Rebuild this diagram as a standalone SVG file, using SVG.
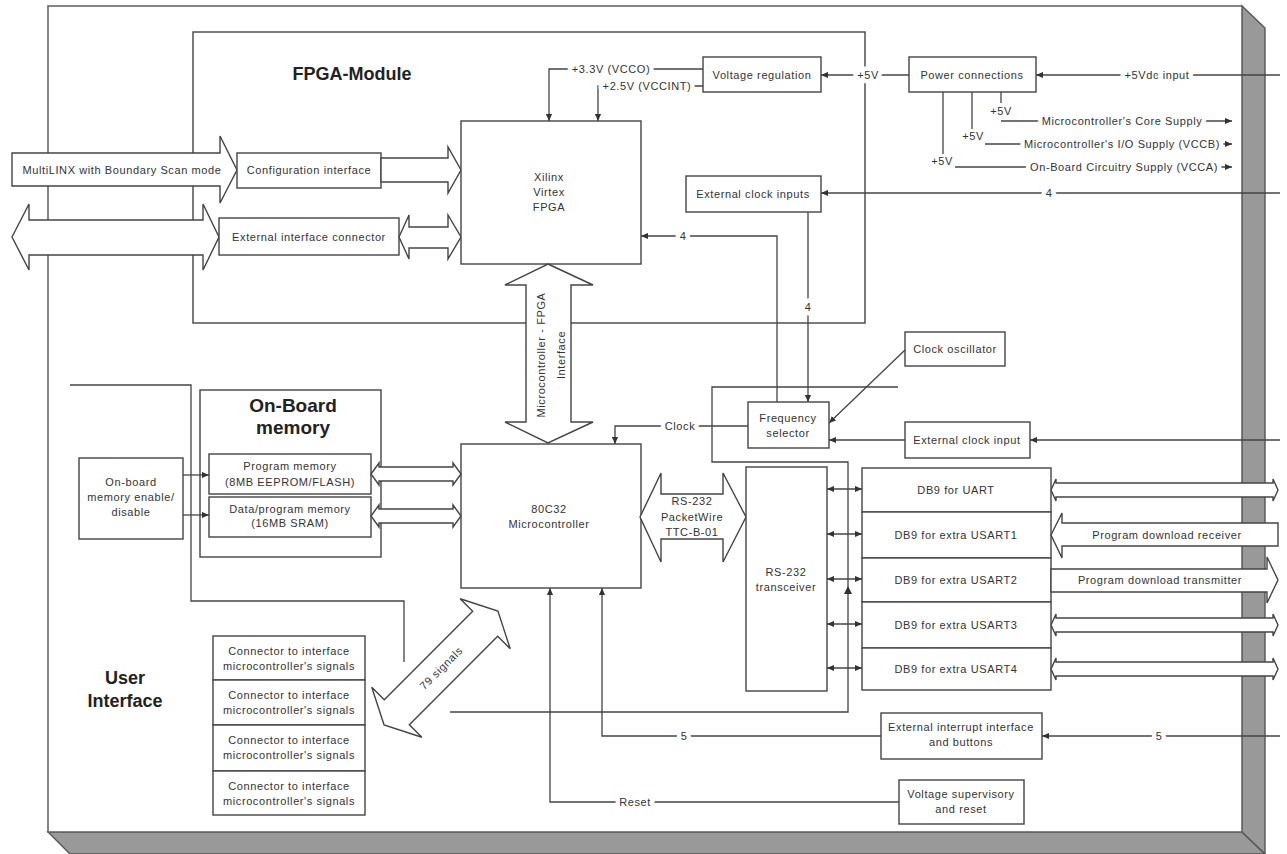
<svg xmlns="http://www.w3.org/2000/svg" width="1287" height="854" viewBox="0 0 1287 854">
<defs>
<style>
.b{fill:#fff;stroke:#444;stroke-width:1.4}
.c{fill:none;stroke:#444;stroke-width:1.4}
.l{fill:none;stroke:#444;stroke-width:1.3}
.t{font-family:"Liberation Sans",Arial,sans-serif;font-size:11px;fill:#333;text-anchor:middle;dominant-baseline:central;letter-spacing:0.6px}
.h{font-family:"Liberation Sans",Arial,sans-serif;font-weight:bold;fill:#222;text-anchor:middle;dominant-baseline:central}
.lb{stroke:#fff;stroke-width:9px;paint-order:stroke;stroke-linejoin:round}
</style>
<marker id="a" viewBox="0 0 8 8" refX="8" refY="4" markerWidth="7" markerHeight="7" markerUnits="userSpaceOnUse" orient="auto-start-reverse"><path d="M0,0.5 L8,4 L0,7.5 z" fill="#333"/></marker>
</defs>

<g id="board">
<polygon points="48,832 1242,832 1265,854 70,854" fill="#999" stroke="#555" stroke-width="1.4"/>
<polygon points="1242,6 1265,28 1265,854 1242,832" fill="#999" stroke="#555" stroke-width="1.4"/>
<rect x="48" y="6" width="1194" height="826" fill="#fff" stroke="#666" stroke-width="1.6"/>
</g>

<g id="fpga-module">
<rect class="c" x="193" y="32" width="672" height="291"/>
<text class="h" x="352" y="74" font-size="18">FPGA-Module</text>
</g>

<g id="regions">
<polyline class="l" points="70,385 191,385 191,601 404,601 404,662"/>
<polyline class="l" points="898,387 712,387 712,462 848,462 848,712 450,712"/>
<polygon points="844,594 852,594 848,586" fill="#333"/>
</g>

<g id="connectors">
<polyline class="l" points="703,69 549,69 549,121" marker-end="url(#a)"/>
<polyline class="l" points="703,86 598,86 598,121" marker-end="url(#a)"/>
<line class="l" x1="909" y1="75" x2="821" y2="75" marker-end="url(#a)"/>
<line class="l" x1="1280" y1="75" x2="1036" y2="75" marker-end="url(#a)"/>
<line class="l" x1="1001" y1="92" x2="1001" y2="103"/>
<line class="l" x1="1001" y1="121" x2="1232" y2="121" marker-end="url(#a)"/>
<line class="l" x1="972" y1="92" x2="972" y2="129"/>
<line class="l" x1="985" y1="144" x2="1232" y2="144" marker-end="url(#a)"/>
<line class="l" x1="943" y1="92" x2="943" y2="154"/>
<line class="l" x1="955" y1="167" x2="1232" y2="167" marker-end="url(#a)"/>
<line class="l" x1="1280" y1="193" x2="821" y2="193" marker-end="url(#a)"/>
<line class="l" x1="808" y1="212" x2="808" y2="402" marker-end="url(#a)"/>
<polyline class="l" points="777,402 777,236 641,236" marker-end="url(#a)"/>
<line class="l" x1="905" y1="350" x2="829" y2="423" marker-end="url(#a)"/>
<line class="l" x1="905" y1="440" x2="829" y2="440" marker-end="url(#a)"/>
<line class="l" x1="1280" y1="440" x2="1030" y2="440" marker-end="url(#a)"/>
<polyline class="l" points="748,426 615,426 615,444" marker-end="url(#a)"/>
<line class="l" x1="827" y1="489" x2="862" y2="489" marker-start="url(#a)" marker-end="url(#a)"/>
<line class="l" x1="827" y1="534" x2="862" y2="534" marker-start="url(#a)" marker-end="url(#a)"/>
<line class="l" x1="827" y1="579" x2="862" y2="579" marker-start="url(#a)" marker-end="url(#a)"/>
<line class="l" x1="827" y1="624" x2="862" y2="624" marker-start="url(#a)" marker-end="url(#a)"/>
<line class="l" x1="827" y1="668" x2="862" y2="668" marker-start="url(#a)" marker-end="url(#a)"/>
<line class="l" x1="1280" y1="736" x2="1042" y2="736" marker-end="url(#a)"/>
<polyline class="l" points="881,736 602,736 602,588" marker-end="url(#a)"/>
<polyline class="l" points="899,802 550,802 550,588" marker-end="url(#a)"/>
<line class="l" x1="183" y1="475" x2="209" y2="475" marker-end="url(#a)"/>
<line class="l" x1="183" y1="515" x2="209" y2="515" marker-end="url(#a)"/>
<text class="t lb" x="611" y="69">+3.3V (VCCO)</text>
<text class="t lb" x="647" y="86">+2.5V (VCCINT)</text>
<text class="t lb" x="868" y="75">+5V</text>
<text class="t lb" x="1157" y="75">+5Vdc input</text>
<text class="t" x="1001" y="111">+5V</text>
<text class="t" x="973" y="136">+5V</text>
<text class="t" x="942" y="161">+5V</text>
<text class="t lb" x="1122" y="121">Microcontroller's Core Supply</text>
<text class="t lb" x="1122" y="144">Microcontroller's I/O Supply (VCCB)</text>
<text class="t lb" x="1124" y="167">On-Board Circuitry Supply (VCCA)</text>
<text class="t lb" x="1049" y="193">4</text>
<text class="t lb" x="808" y="307">4</text>
<text class="t lb" x="683" y="236">4</text>
<text class="t lb" x="680" y="426">Clock</text>
<text class="t lb" x="1159" y="736">5</text>
<text class="t lb" x="684" y="736">5</text>
<text class="t lb" x="635" y="802">Reset</text>
</g>

<g id="multilinx">
<polygon class="b" points="12,153 220,153 220,136 237,170 220,203 220,186 12,186"/>
<text class="t" x="122" y="170">MultiLINX with Boundary Scan mode</text>
</g>
<g id="config-interface">
<rect class="b" x="237" y="153" width="144" height="35"/>
<text class="t" x="309" y="170">Configuration interface</text>
<polygon class="b" points="381,158 448,158 448,147 461,170 448,193 448,182 381,182"/>
</g>
<g id="ext-interface">
<polygon class="b" points="12,237 29,204 29,220 203,220 203,204 219,237 203,270 203,255 29,255 29,270"/>
<rect class="b" x="219" y="218" width="180" height="37"/>
<text class="t" x="309" y="237">External interface connector</text>
<polygon class="b" points="399,237 409,215 409,227 448,227 448,215 461,237 448,259 448,248 409,248 409,259"/>
</g>
<g id="fpga">
<rect class="b" x="461" y="121" width="180" height="143"/>
<text class="t" x="549" y="177">Xilinx</text>
<text class="t" x="549" y="192">Virtex</text>
<text class="t" x="549" y="207">FPGA</text>
</g>
<g id="voltage-regulation">
<rect class="b" x="703" y="57" width="118" height="35"/>
<text class="t" x="762" y="75">Voltage regulation</text>
</g>
<g id="power-connections">
<rect class="b" x="909" y="57" width="127" height="35"/>
<text class="t" x="972" y="75">Power connections</text>
</g>
<g id="ext-clock-inputs">
<rect class="b" x="686" y="176" width="135" height="36"/>
<text class="t" x="753" y="194">External clock inputs</text>
</g>
<g id="freq-selector">
<rect class="b" x="748" y="402" width="81" height="46"/>
<text class="t" x="788" y="418">Frequency</text>
<text class="t" x="788" y="433">selector</text>
</g>
<g id="clock-oscillator">
<rect class="b" x="905" y="332" width="100" height="34"/>
<text class="t" x="955" y="349">Clock oscillator</text>
</g>
<g id="ext-clock-input">
<rect class="b" x="905" y="422" width="125" height="36"/>
<text class="t" x="967" y="440">External clock input</text>
</g>
<g id="mc-fpga-interface">
<polygon class="b" points="548,264 593,285 571,285 571,422 593,422 548,443 505,422 526,422 526,285 505,285"/>
<text class="t" transform="translate(541,355) rotate(-90)">Microcontroller - FPGA</text>
<text class="t" transform="translate(561,355) rotate(-90)">Interface</text>
</g>
<g id="microcontroller">
<rect class="b" x="461" y="444" width="180" height="144"/>
<text class="t" x="549" y="509">80C32</text>
<text class="t" x="549" y="524">Microcontroller</text>
</g>
<g id="rs232-link">
<polygon class="b" points="640,517 661,473 661,494 723,494 723,473 746,517 723,562 723,539 661,539 661,562"/>
<text class="t" x="692" y="501">RS-232</text>
<text class="t" x="692" y="517">PacketWire</text>
<text class="t" x="692" y="532">TTC-B-01</text>
</g>
<g id="rs232-transceiver">
<rect class="b" x="746" y="467" width="81" height="224"/>
<text class="t" x="786" y="572">RS-232</text>
<text class="t" x="786" y="587">transceiver</text>
</g>
<g id="db9-uart">
<rect class="b" x="862" y="468" width="189" height="44"/>
<text class="t" x="956" y="490">DB9 for UART</text>
<polygon class="b" points="1051,490 1056,479 1056,483 1273,483 1273,479 1278,490 1273,501 1273,497 1056,497 1056,501"/>
</g>
<g id="db9-usart1">
<rect class="b" x="862" y="512" width="189" height="46"/>
<text class="t" x="956" y="535">DB9 for extra USART1</text>
<polygon class="b" points="1051,535 1062,513 1062,523 1278,523 1278,546 1062,546 1062,558"/>
<text class="t" x="1167" y="535">Program download receiver</text>
</g>
<g id="db9-usart2">
<rect class="b" x="862" y="558" width="189" height="44"/>
<text class="t" x="956" y="580">DB9 for extra USART2</text>
<polygon class="b" points="1051,569 1267,569 1267,557 1278,580 1267,603 1267,592 1051,592"/>
<text class="t" x="1160" y="580">Program download transmitter</text>
</g>
<g id="db9-usart3">
<rect class="b" x="862" y="602" width="189" height="46"/>
<text class="t" x="956" y="625">DB9 for extra USART3</text>
<polygon class="b" points="1051,625 1056,614 1056,618 1273,618 1273,614 1278,625 1273,636 1273,632 1056,632 1056,636"/>
</g>
<g id="db9-usart4">
<rect class="b" x="862" y="648" width="189" height="42"/>
<text class="t" x="956" y="669">DB9 for extra USART4</text>
<polygon class="b" points="1051,669 1056,658 1056,662 1273,662 1273,658 1278,669 1273,680 1273,676 1056,676 1056,680"/>
</g>
<g id="ext-interrupt">
<rect class="b" x="881" y="713" width="161" height="46"/>
<text class="t" x="961" y="727">External interrupt interface</text>
<text class="t" x="961" y="742">and buttons</text>
</g>
<g id="voltage-supervisory">
<rect class="b" x="899" y="780" width="125" height="44"/>
<text class="t" x="961" y="794">Voltage supervisory</text>
<text class="t" x="961" y="809">and reset</text>
</g>
<g id="onboard-memory">
<rect class="c" x="200" y="390" width="181" height="167"/>
<text class="h" x="293" y="405" font-size="19">On-Board</text>
<text class="h" x="293" y="427" font-size="19">memory</text>
</g>
<g id="program-memory">
<rect class="b" x="209" y="454" width="162" height="40"/>
<text class="t" x="290" y="466">Program memory</text>
<text class="t" x="290" y="482">(8MB EEPROM/FLASH)</text>
<polygon class="b" points="371,474 379,463 379,467 453,467 453,463 461,474 453,485 453,481 379,481 379,485"/>
</g>
<g id="data-memory">
<rect class="b" x="209" y="497" width="162" height="40"/>
<text class="t" x="290" y="509">Data/program memory</text>
<text class="t" x="290" y="523">(16MB SRAM)</text>
<polygon class="b" points="371,516 379,505 379,509 453,509 453,505 461,516 453,527 453,523 379,523 379,527"/>
</g>
<g id="memory-enable">
<rect class="b" x="79" y="458" width="104" height="81"/>
<text class="t" x="131" y="482">On-board</text>
<text class="t" x="131" y="497">memory enable/</text>
<text class="t" x="131" y="512">disable</text>
</g>
<g id="user-interface">
<text class="h" x="125" y="678" font-size="18">User</text>
<text class="h" x="125" y="701" font-size="18">Interface</text>
</g>
<g id="connector-1">
<rect class="b" x="213" y="636" width="152" height="44"/>
<text class="t" x="289" y="651">Connector to interface</text>
<text class="t" x="289" y="666">microcontroller's signals</text>
</g>
<g id="connector-2">
<rect class="b" x="213" y="680" width="152" height="45"/>
<text class="t" x="289" y="695">Connector to interface</text>
<text class="t" x="289" y="710">microcontroller's signals</text>
</g>
<g id="connector-3">
<rect class="b" x="213" y="725" width="152" height="46"/>
<text class="t" x="289" y="740">Connector to interface</text>
<text class="t" x="289" y="755">microcontroller's signals</text>
</g>
<g id="connector-4">
<rect class="b" x="213" y="771" width="152" height="44"/>
<text class="t" x="289" y="786">Connector to interface</text>
<text class="t" x="289" y="801">microcontroller's signals</text>
</g>
<g id="signals-79" transform="translate(441,668) rotate(-45)">
<polygon class="b" points="-80.5,0 -62.5,-35.4 -62.5,-17.7 62.5,-17.7 62.5,-35.4 80.5,0 62.5,35.4 62.5,17.7 -62.5,17.7 -62.5,35.4"/>
<text class="t" x="0" y="0">79 signals</text>
</g>
</svg>
